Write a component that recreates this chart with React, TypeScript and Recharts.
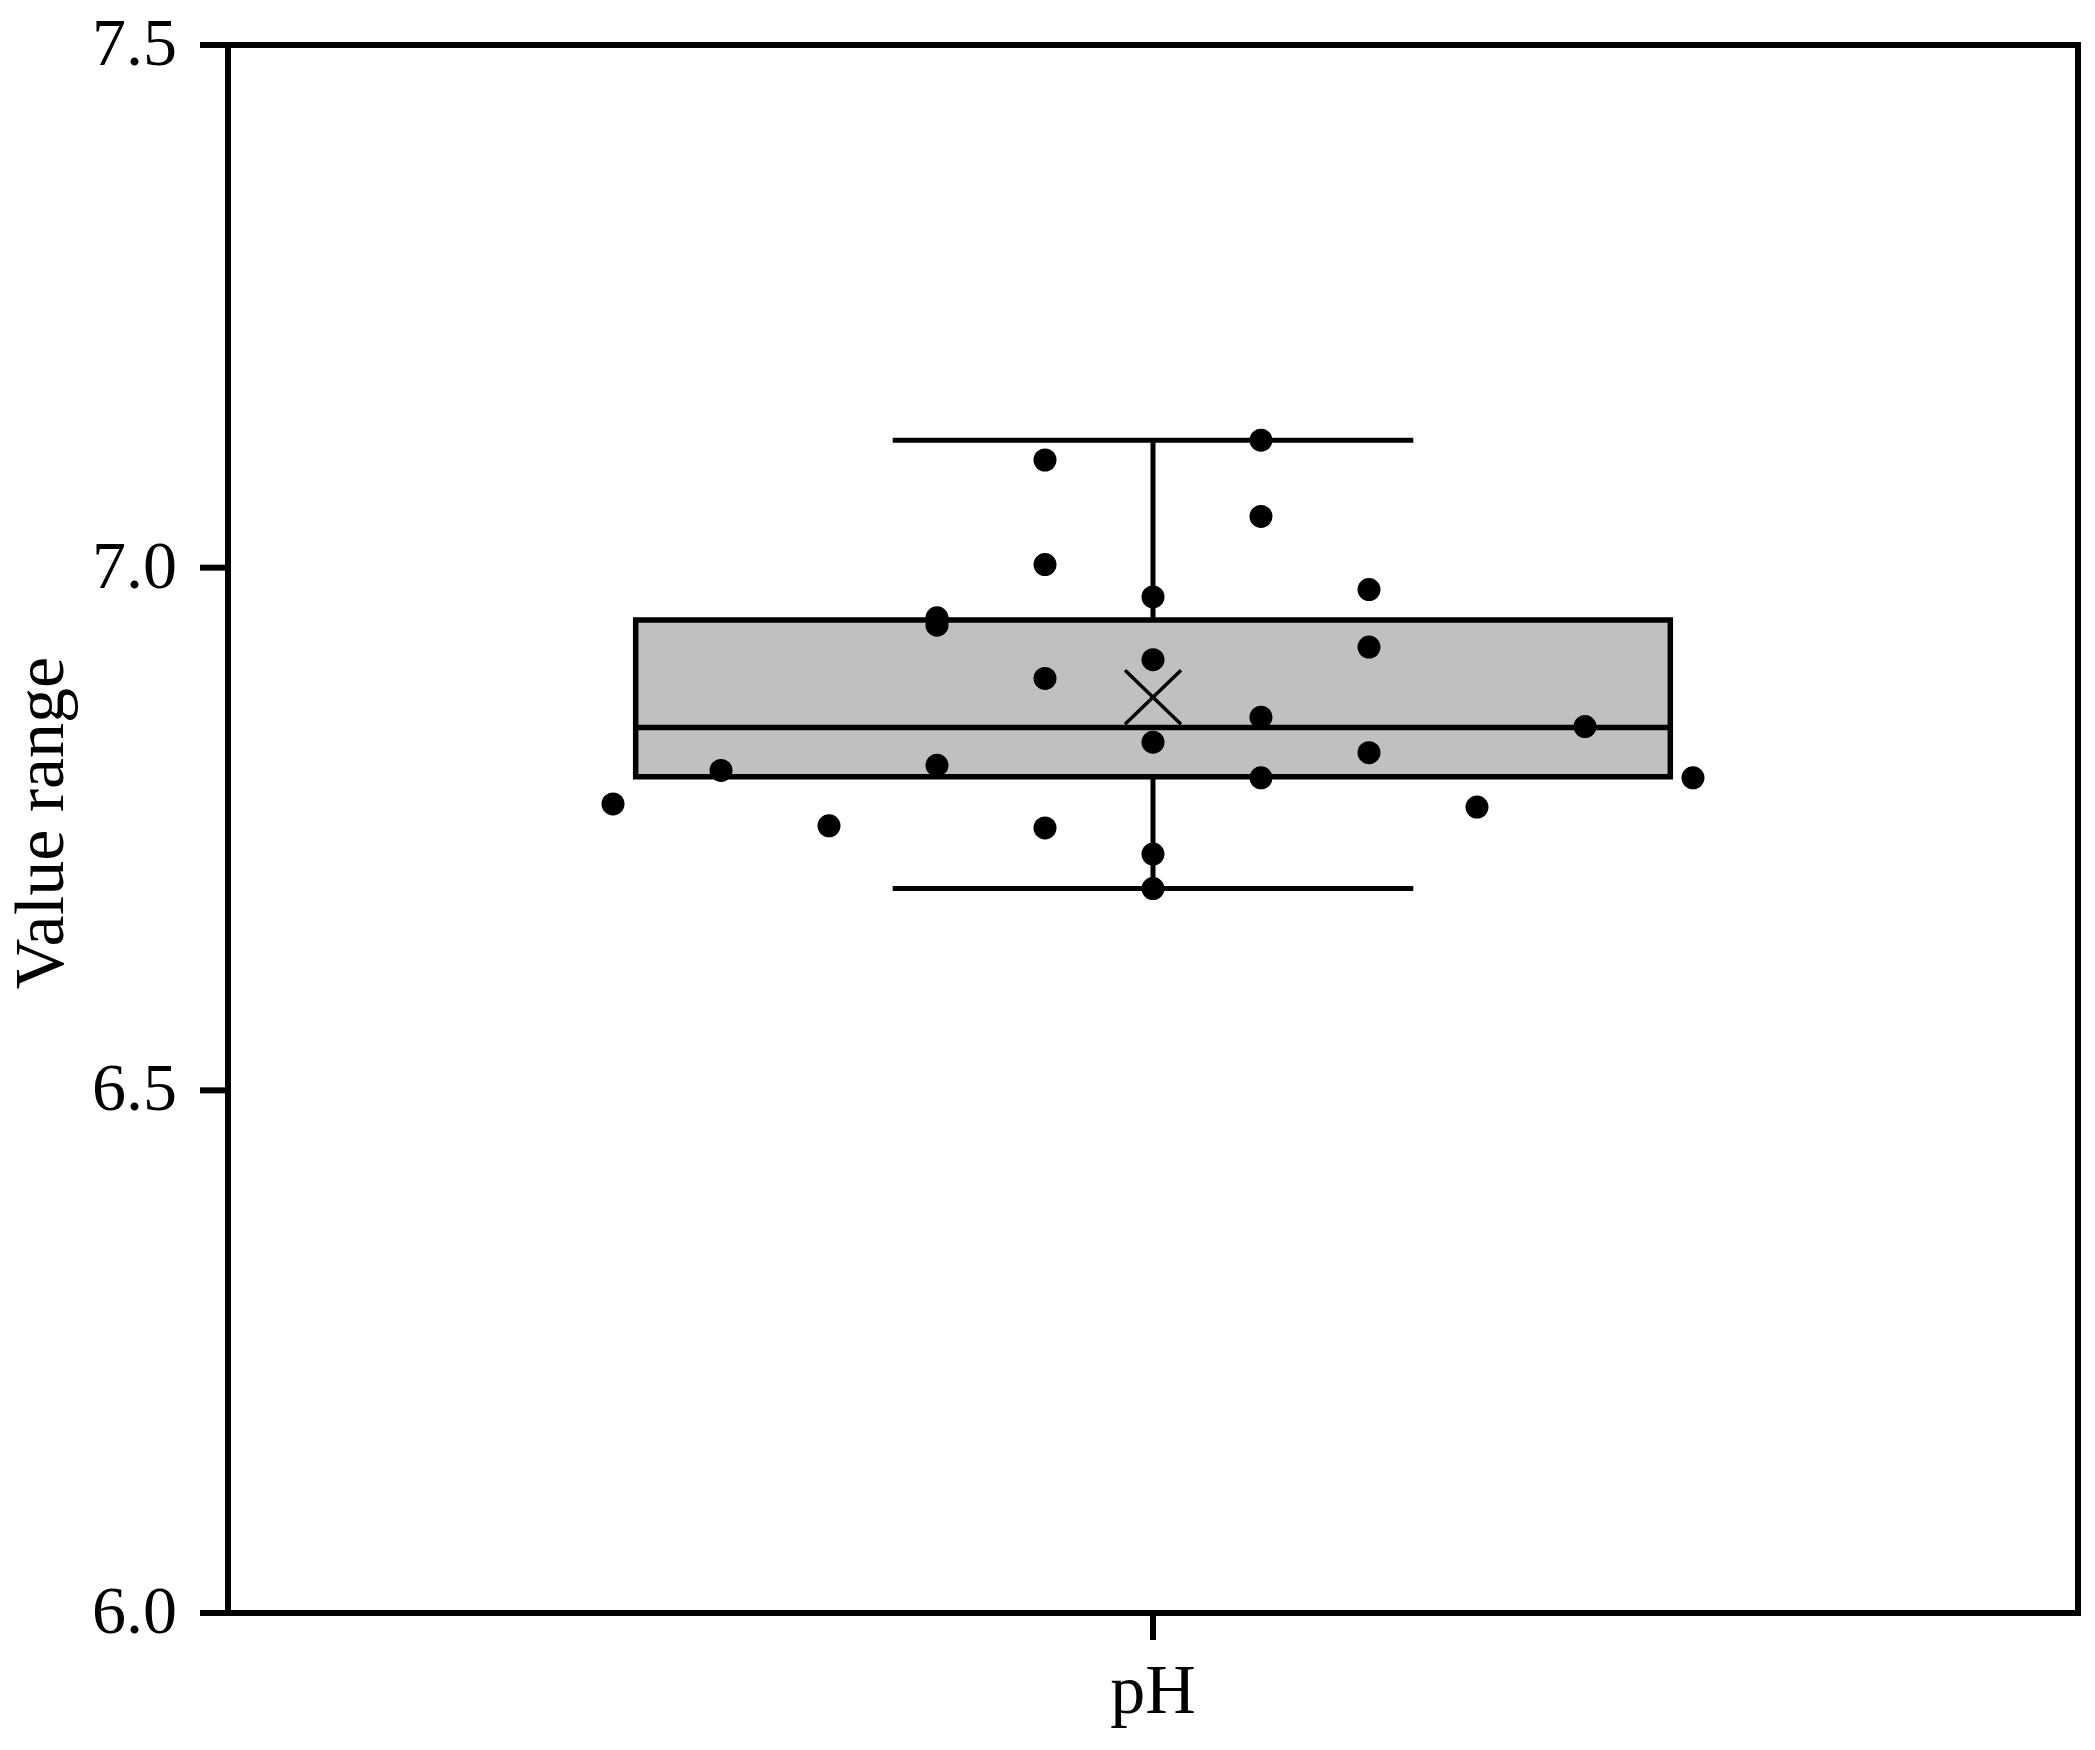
import { ComposedChart, Scatter, XAxis, YAxis, ReferenceArea, ReferenceLine, Label } from 'recharts'

// jitter slot of every sample (column offset from the box centre) and its pH value
const slots = [-5, -4, -3, -2, -2, -2, -1, -1, -1, -1, 0, 0, 0, 0, 0, 1, 1, 1, 1, 2, 2, 2, 3, 4, 5]
const phValues = [
	6.774, 6.806, 6.753, 6.952, 6.945, 6.811, 7.103, 7.003, 6.894, 6.751, 6.972, 6.912, 6.833,
	6.726, 6.693, 7.122, 7.049, 6.857, 6.799, 6.979, 6.924, 6.823, 6.771, 6.848, 6.799,
]

// box statistics as drawn
const boxMin = 6.693
const boxQ1 = 6.8
const boxMedian = 6.847
const boxQ3 = 6.95
const boxMax = 7.122
const boxMean = 6.876

const yTicks = [6.0, 6.5, 7.0, 7.5]
const categoryLabel = 'pH'

const points = slots.map((s, i) => ({ x: s, y: phValues[i] }))
const meanPoint = [{ x: 0, y: boxMean }]

const xDomain: [number, number] = [-8.565, 8.565]
const boxHalf = 4.79
const capHalf = 2.41
const font = '"Liberation Serif", "Times New Roman", serif'

const Dot = (props: any) => <circle cx={props.cx} cy={props.cy} r={11.5} fill='#000' />

const MeanCross = (props: any) => {
	const { cx, cy } = props
	return (
		<g stroke='#000' strokeWidth={3.5}>
			<line x1={cx - 28} y1={cy - 27} x2={cx + 28} y2={cy + 27} />
			<line x1={cx - 28} y1={cy + 27} x2={cx + 28} y2={cy - 27} />
		</g>
	)
}

const YTick = (props: any) => {
	const { x, y, payload } = props
	return (
		<text x={x} y={y + 20} textAnchor='end' style={{ fontFamily: font }} fontSize={68} fill='#000'>
			{Number(payload.value).toFixed(1)}
		</text>
	)
}

const XTick = (props: any) => {
	const { x, y } = props
	return (
		<text x={x} y={y + 73} textAnchor='middle' style={{ fontFamily: font }} fontSize={70} fill='#000'>
			{categoryLabel}
		</text>
	)
}

const YTitle = (props: any) => {
	const vb = props.viewBox || { x: 0, y: 45, width: 228, height: 1568 }
	const cx = vb.x + 63
	const cy = vb.y + vb.height / 2 - 6
	return (
		<text
			x={cx}
			y={cy}
			transform={`rotate(-90 ${cx} ${cy})`}
			textAnchor='middle'
			style={{ fontFamily: font }}
			fontSize={70}
			fill='#000'
		>
			Value range
		</text>
	)
}

const App = () => {
	return (
		<div style={{ position: 'absolute', left: 0, top: 0, width: 2095, height: 1750, background: '#fff' }}>
			<ComposedChart width={2095} height={1750} margin={{ top: 45, right: 17, bottom: 0, left: 0 }}>
				<XAxis
					type='number'
					dataKey='x'
					domain={xDomain}
					ticks={[0]}
					tick={<XTick />}
					tickSize={27}
					tickMargin={0}
					height={137}
					stroke='#000'
					axisLine={{ stroke: '#000', strokeWidth: 6 }}
					tickLine={{ stroke: '#000', strokeWidth: 6 }}
					allowDataOverflow
				/>
				<YAxis
					type='number'
					dataKey='y'
					domain={[6, 7.5]}
					ticks={yTicks}
					tick={<YTick />}
					tickSize={28}
					tickMargin={23}
					width={228}
					stroke='#000'
					axisLine={{ stroke: '#000', strokeWidth: 6 }}
					tickLine={{ stroke: '#000', strokeWidth: 6 }}
					allowDataOverflow
				>
					<Label content={<YTitle />} />
				</YAxis>
				<ReferenceArea
					x1={xDomain[0]}
					x2={xDomain[1]}
					y1={6}
					y2={7.5}
					fill='none'
					fillOpacity={0}
					stroke='#000'
					strokeWidth={6}
					strokeOpacity={1}
				/>
				<ReferenceArea
					x1={-boxHalf}
					x2={boxHalf}
					y1={boxQ1}
					y2={boxQ3}
					fill='#c0c0c0'
					fillOpacity={1}
					stroke='#000'
					strokeWidth={5.5}
					strokeOpacity={1}
				/>
				<ReferenceLine
					segment={[{ x: -boxHalf, y: boxMedian }, { x: boxHalf, y: boxMedian }]}
					stroke='#000'
					strokeWidth={5.5}
				/>
				<ReferenceLine segment={[{ x: 0, y: boxQ3 }, { x: 0, y: boxMax }]} stroke='#000' strokeWidth={5} />
				<ReferenceLine segment={[{ x: 0, y: boxQ1 }, { x: 0, y: boxMin }]} stroke='#000' strokeWidth={5} />
				<ReferenceLine
					segment={[{ x: -capHalf, y: boxMax }, { x: capHalf, y: boxMax }]}
					stroke='#000'
					strokeWidth={5}
				/>
				<ReferenceLine
					segment={[{ x: -capHalf, y: boxMin }, { x: capHalf, y: boxMin }]}
					stroke='#000'
					strokeWidth={5}
				/>
				<Scatter data={meanPoint} shape={<MeanCross />} isAnimationActive={false} />
				<Scatter data={points} shape={<Dot />} isAnimationActive={false} />
			</ComposedChart>
		</div>
	)
}

export default App
